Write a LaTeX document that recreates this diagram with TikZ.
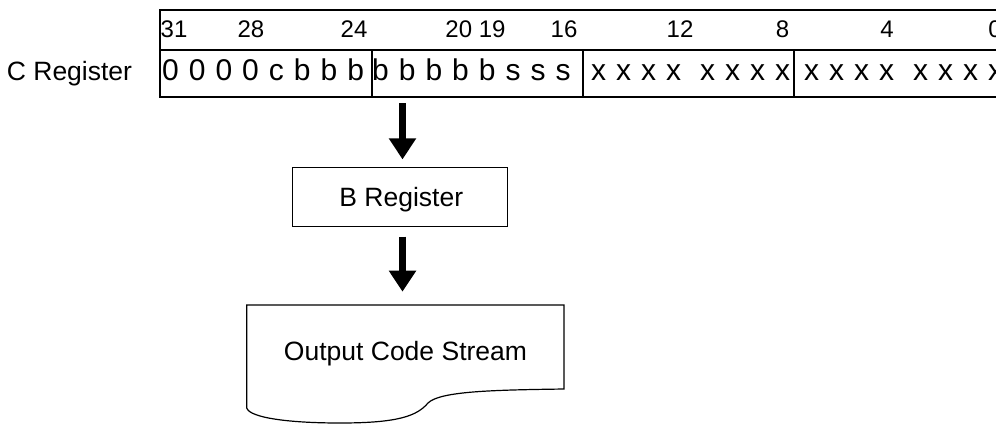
\documentclass[tikz,border=0pt]{standalone}
\usepackage{fontspec}
\setmainfont{Liberation Sans}
\usetikzlibrary{arrows.meta}
\newcommand\myfs[1]{\fontsize{#1}{#1}\selectfont}
\newcommand\rowtxt[1]{\spaceskip=10pt\relax#1}
\begin{document}
\begin{tikzpicture}[x=1pt,y=-1pt,
  lbl/.style={inner sep=0pt, font=\myfs{24}},
  row/.style={inner sep=0pt, font=\myfs{30}},
  big/.style={inner sep=0pt, font=\myfs{26.5}},
  regline/.style={line width=1.8pt},
  thinline/.style={line width=1.2pt},
  bigarrow/.style={line width=7pt, -{Triangle[width=26pt,length=21pt]}}]
\useasboundingbox (0,0) rectangle (996,424);
% C register frame
\draw[regline] (1010,10) -- (160,10) -- (160,96.7) -- (1010,96.7);
\draw[regline] (160,50) -- (1010,50);
\draw[regline] (371.7,50) -- (371.7,96.7);
\draw[regline] (583,50) -- (583,96.7);
\draw[regline] (794,50) -- (794,96.7);
% bit numbers
\node[lbl, anchor=base west] (n31) at (160.5,37) {31};
\node[lbl, anchor=base] (n28) at (251,37) {28};
\node[lbl, anchor=base] (n24) at (354,37) {24};
\node[lbl, anchor=base] (n2019) at (475.5,37) {20 19};
\node[lbl, anchor=base] (n16) at (564,37) {16};
\node[lbl, anchor=base] (n12) at (680,37) {12};
\node[lbl, anchor=base] (n8) at (782.5,37) {8};
\node[lbl, anchor=base] (n4) at (887,37) {4};
\node[lbl, anchor=base] (n0) at (995,37) {0};
% label
\node[big, anchor=base west] (clabel) at (6.7,80.7) {C Register};
% cell contents
\node[row, anchor=base west] (c1) at (162,80) {\rowtxt{0 0 0 0 c b b b}};
\node[row, anchor=base west] (c2) at (372,80) {\rowtxt{b b b b b s s s}};
\node[row, anchor=base west] (c3) at (591,80) {\rowtxt{x x x x\hspace{19pt}x x x x}};
\node[row, anchor=base west] (c4) at (804,80) {\rowtxt{x x x x\hspace{19pt}x x x x}};
% B register
\node[draw, thinline, minimum width=215pt, minimum height=59.4pt, inner sep=0pt] (breg) at (400.2,197) {};
\node[big, anchor=base] (btxt) at (401.3,206.7) {B Register};
% output code stream (document shape)
\draw[thinline] (246.7,305) -- (564,305) -- (564,389)
  .. controls (495,390) and (440,391) .. (428,403)
  .. controls (417,416) and (398,423) .. (340,423)
  .. controls (290,423) and (250,418) .. (246.7,408) -- cycle;
\coordinate (outtop) at (402.5,305);
\node[big, anchor=base] (otxt) at (405.5,360) {Output Code Stream};
% arrows
\coordinate (a1) at (402.5,103.3);
\coordinate (a2) at (402.5,236.7);
\draw[bigarrow, shorten >=7.3pt] (a1) -- (a1 |- breg.north);
\draw[bigarrow, shorten >=13.3pt] (a2) -- (outtop);
\end{tikzpicture}
\end{document}
